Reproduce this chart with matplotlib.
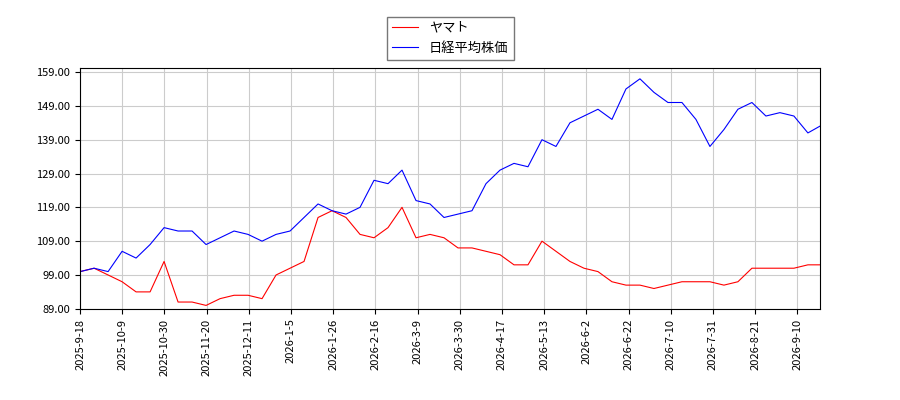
import matplotlib
matplotlib.use("Agg")
import matplotlib.pyplot as plt
import numpy as np

plt.rcParams['font.family'] = ['Noto Sans CJK JP', 'DejaVu Sans']

nikkei = [100,101,100,106,104,108,113,112,112,108,110,112,111,109,111,112,116,120,118,117,119,127,126,130,
          121,120,116,117,118,126,130,132,131,139,137,144,146,148,145,154,157,153,150,150,145,137,142,148,
          150,146,147,146,141,143]
yamato = [100,101,99,97,94,94,103,91,91,90,92,93,93,92,99,101,103,116,118,116,111,110,113,119,
          110,111,110,107,107,106,105,102,102,109,106,103,101,100,97,96,96,95,96,97,97,97,96,97,
          101,101,101,101,102,102]
tick_labels = ["2025-9-18","2025-10-9","2025-10-30","2025-11-20","2025-12-11","2026-1-5","2026-1-26",
               "2026-2-16","2026-3-9","2026-3-30","2026-4-17","2026-5-13","2026-6-2","2026-6-22",
               "2026-7-10","2026-7-31","2026-8-21","2026-9-10"]
yticks = [89,99,109,119,129,139,149,159]

# weekly samples; one tick interval spans about 3 weeks
x = np.arange(len(nikkei)) * (14 / 42.2)
x[-1] = (820 - 80) / 42.2

fig = plt.figure(figsize=(9,4), dpi=100)
ax = fig.add_axes([0.089, 0.228, 0.822, 0.602])
ax.plot(x, yamato, color='red', lw=0.8, label='ヤマト')
ax.plot(x, nikkei, color='blue', lw=0.8, label='日経平均株価')
ax.set_ylim(89, 160.2)
ax.set_xlim(0, x[-1])
ax.set_yticks(yticks)
ax.set_yticklabels([f"{v:.2f}" for v in yticks], fontsize=8)
ax.set_xticks(np.arange(len(tick_labels)))
ax.set_xticklabels(tick_labels, rotation=90, fontsize=8)
ax.grid(True, color='#cccccc', lw=0.8)
fig.legend(loc='upper center', bbox_to_anchor=(0.5, 0.975), fontsize=9.5, fancybox=False, edgecolor='#555555')
fig.savefig("out.png")
